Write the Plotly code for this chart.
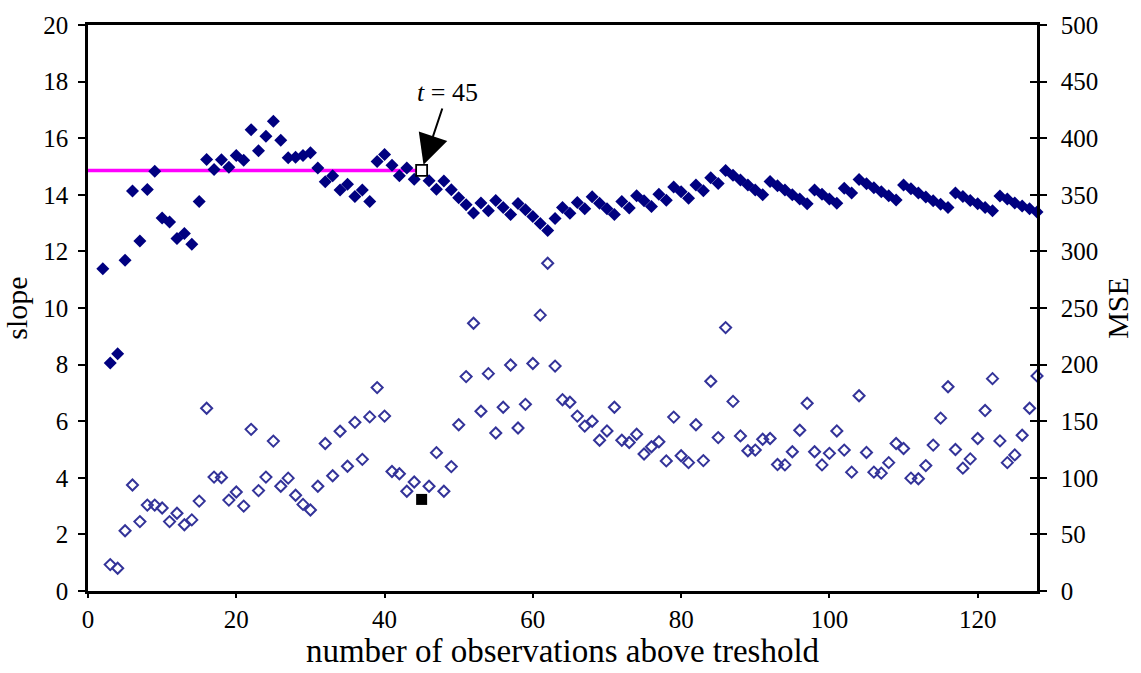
import plotly.graph_objects as go

# slope series (filled diamonds), x = 2..128
slope_x = list(range(2, 129))
slope_y = [11.39, 8.06, 8.38, 11.69, 14.13, 12.37, 14.19, 14.83, 13.18, 13.04,
           12.46, 12.63, 12.25, 13.76, 15.25, 14.89, 15.24, 14.97, 15.39, 15.22,
           16.30, 15.56, 16.07, 16.60, 15.93, 15.31, 15.33, 15.39, 15.49, 14.95,
           14.46, 14.67, 14.17, 14.37, 13.94, 14.17, 13.76, 15.18, 15.42, 15.04,
           14.67, 14.95, 14.55, 14.86, 14.50, 14.20, 14.49, 14.18, 13.90, 13.65,
           13.36, 13.71, 13.44, 13.80, 13.55, 13.30, 13.69, 13.47, 13.23, 12.99,
           12.74, 13.16, 13.55, 13.35, 13.73, 13.51, 13.93, 13.70, 13.51, 13.30,
           13.76, 13.53, 13.97, 13.79, 13.59, 14.02, 13.81, 14.28, 14.11, 13.88,
           14.35, 14.14, 14.60, 14.40, 14.86, 14.69, 14.52, 14.35, 14.17, 14.00,
           14.47, 14.32, 14.17, 14.00, 13.85, 13.68, 14.17, 14.02, 13.85, 13.70,
           14.23, 14.06, 14.54, 14.39, 14.25, 14.11, 13.97, 13.82, 14.35, 14.21,
           14.06, 13.92, 13.79, 13.67, 13.55, 14.06, 13.94, 13.80, 13.68, 13.55,
           13.44, 13.96, 13.85, 13.71, 13.60, 13.51, 13.39]

# MSE series (open diamonds), x = 3..128
mse_x = list(range(3, 129))
mse_y = [23.3, 20.1, 53.2, 93.6, 61.3, 75.9, 75.9, 73.3, 61.3, 68.7,
         58.5, 62.8, 79.4, 161.4, 100.6, 100.3, 80.3, 87.5, 75.0, 142.8,
         88.7, 100.6, 132.4, 92.5, 99.7, 84.6, 76.5, 71.6, 92.5, 130.3,
         101.8, 141.1, 110.2, 149.0, 116.3, 153.8, 179.7, 154.5, 105.6, 103.6,
         88.1, 96.3, 80.9, 92.5, 122.2, 88.1, 109.9, 146.9, 189.4, 236.5,
         158.8, 192.0, 139.6, 162.3, 199.6, 144.0, 164.9, 201.0, 243.7, 289.5,
         198.7, 169.0, 166.7, 154.5, 145.7, 150.0, 133.2, 141.4, 162.3, 133.2,
         131.2, 138.5, 121.0, 127.4, 131.8, 114.9, 153.6, 119.5, 113.4, 146.9,
         115.2, 185.3, 135.5, 232.7, 167.5, 137.0, 123.9, 124.5, 134.1, 134.7,
         111.7, 111.4, 123.0, 142.0, 165.8, 123.0, 111.4, 121.6, 141.4, 124.5,
         105.0, 172.5, 122.4, 105.0, 104.1, 113.4, 130.3, 125.9, 99.7, 99.2,
         110.8, 128.9, 152.7, 180.4, 125.0, 108.5, 116.7, 134.7, 159.4, 187.6,
         132.6, 113.4, 120.2, 137.6, 161.4, 190.0]

t_sel = 45
slope_level = slope_y[slope_x.index(t_sel)]
mse_sel = mse_y[mse_x.index(t_sel)]

fig = go.Figure()

# magenta level line up to t
fig.add_trace(go.Scatter(x=[0, t_sel], y=[slope_level, slope_level], mode="lines",
                         line=dict(color="#FF00FF", width=3.5), showlegend=False,
                         hoverinfo="skip", cliponaxis=False))

# slope
sx = [x for x in slope_x if x != t_sel]
sy = [y for x, y in zip(slope_x, slope_y) if x != t_sel]
fig.add_trace(go.Scatter(x=sx, y=sy, mode="markers",
                         marker=dict(symbol="diamond", size=10, color="#000080",
                                     line=dict(width=0)),
                         showlegend=False, cliponaxis=False))

# MSE
mx = [x for x in mse_x if x != t_sel]
my = [y for x, y in zip(mse_x, mse_y) if x != t_sel]
fig.add_trace(go.Scatter(x=mx, y=my, mode="markers", yaxis="y2",
                         marker=dict(symbol="diamond-open", size=8.5, color="#333399",
                                     line=dict(width=2, color="#333399")),
                         showlegend=False, cliponaxis=False))

# selected points
fig.add_trace(go.Scatter(x=[t_sel], y=[slope_level], mode="markers",
                         marker=dict(symbol="square", size=11, color="white",
                                     line=dict(width=1.8, color="black")),
                         showlegend=False))
fig.add_trace(go.Scatter(x=[t_sel], y=[mse_sel], mode="markers", yaxis="y2",
                         marker=dict(symbol="square", size=11, color="black",
                                     line=dict(width=0)),
                         showlegend=False))

fig.add_annotation(x=t_sel, y=slope_level, xref="x", yref="y",
                   text="<i>t</i> = 45", showarrow=True, ax=26, ay=-78,
                   arrowhead=2, arrowsize=3, arrowwidth=2, arrowcolor="black",
                   standoff=6, font=dict(family="Liberation Serif", size=26, color="black"))

tickfont = dict(family="Liberation Serif", size=25, color="black")
fig.update_layout(
    width=1141, height=673,
    margin=dict(l=88, r=99, t=18, b=82),
    paper_bgcolor="white", plot_bgcolor="white",
    font=dict(family="Liberation Serif", size=25, color="black"),
    xaxis=dict(range=[0, 128], dtick=20, tick0=0, showgrid=False, zeroline=False,
               showline=True, linecolor="black", linewidth=3, mirror=True,
               ticks="outside", ticklen=4, tickcolor="black", tickwidth=1.5,
               tickfont=tickfont,
               title=dict(text="number of observations above treshold",
                          font=dict(family="Liberation Serif", size=33), standoff=4)),
    yaxis=dict(range=[0, 20], dtick=2, tick0=0, showgrid=False, zeroline=False,
               showline=True, linecolor="black", linewidth=2.5, mirror="ticks",
               ticks="outside", ticklen=7, tickcolor="black", tickwidth=1.5,
               tickfont=tickfont, ticklabelstandoff=5,
               title=dict(text="slope", font=dict(family="Liberation Serif", size=30),
                          standoff=10)),
    yaxis2=dict(range=[0, 500], dtick=50, tick0=0, overlaying="y", side="right",
                showgrid=False, zeroline=False, showline=True, linecolor="black",
                linewidth=2.5, ticks="inside", ticklen=7, tickcolor="black", tickwidth=1.5,
                tickfont=tickfont, ticklabelstandoff=16,
                title=dict(text="MSE", font=dict(family="Liberation Serif", size=30),
                           standoff=10)),
)

fig.write_html("out.html")
